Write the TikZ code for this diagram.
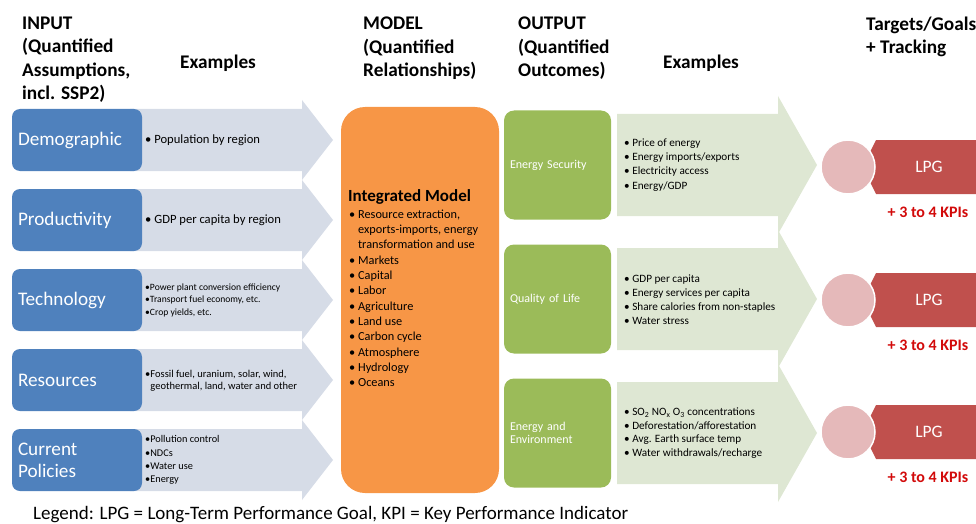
\documentclass[tikz,border=0pt]{standalone}
\usepackage{fontspec}
\setmainfont{Carlito}
\usetikzlibrary{positioning}

\definecolor{inblue}{RGB}{79,129,189}
\definecolor{inpale}{RGB}{214,220,231}
\definecolor{modelorange}{RGB}{247,150,70}
\definecolor{outgreen}{RGB}{155,187,89}
\definecolor{outpale}{RGB}{222,231,211}
\definecolor{goalpink}{RGB}{229,185,186}
\definecolor{lpgred}{RGB}{192,80,77}
\definecolor{kpired}{RGB}{210,10,10}

\newcommand{\bul}{\textbullet\ }
\newcommand{\ind}{\phantom{\textbullet\ }}

\begin{document}
\begin{tikzpicture}[x=1pt,y=-1pt,
  head/.style={font=\fontsize{19.3}{23.2}\selectfont\bfseries, align=left, inner sep=0pt},
  inbox/.style={fill=inblue, rounded corners=8pt, minimum width=130pt, minimum height=62pt,
    text width=118pt, inner xsep=6pt, align=left, text=white, font=\fontsize{19.2}{22}\selectfont},
  inex/.style={anchor=west, align=left, inner sep=0pt},
  model/.style={fill=modelorange, rounded corners=24pt, minimum width=158pt, minimum height=386pt},
  outbox/.style={fill=outgreen, rounded corners=10pt, minimum width=107pt, minimum height=109pt,
    text width=95pt, inner xsep=6pt, align=left, text=white, font=\fontsize{12}{12.5}\selectfont},
  outex/.style={anchor=west, align=left, inner sep=0pt, font=\fontsize{11.2}{14.2}\selectfont},
  goal/.style={circle, fill=goalpink, draw=white, line width=1.5pt, minimum size=54pt, inner sep=0pt},
  lpg/.style={text=white, font=\fontsize{17.5}{20}\selectfont},
  kpi/.style={text=kpired, font=\fontsize{16}{18}\selectfont\bfseries}]
  \useasboundingbox (0,0) rectangle (976,524);

  % headings
  \node[head, anchor=north west] (hdinput) at (22,17) {INPUT\\(Quantified\\Assumptions,\\incl. SSP2)};
  \node[head, anchor=west] (hdexin) at (180,63) {Examples};
  \node[head, anchor=north west] (hdmodel) at (363,17) {MODEL\\(Quantified\\Relationships)};
  \node[head, anchor=north west] (hdoutput) at (518,17) {OUTPUT\\(Quantified\\Outcomes)};
  \node[head, anchor=west] (hdexout) at (663,63) {Examples};
  \node[head, anchor=north west] (hdtarget) at (866,17) {Targets/Goals\\+ Tracking};

  % inputs
  \foreach \c/\i/\lbl in {140/1/Demographic, 220/2/Productivity, 300/3/Technology,
      380/4/Resources, 460/5/{Current\\Policies}} {
    \fill[inpale] (130,\c-31) -- (302,\c-31) -- (302,\c-40) -- (333,\c) -- (302,\c+40)
      -- (302,\c+31) -- (130,\c+31) -- cycle;
    \node[inbox] (in\i) at (77,\c) {\lbl};
  }
  \node[inex, font=\fontsize{12.6}{14}\selectfont] (inex1) at (145,140) {\bul Population by region};
  \node[inex, font=\fontsize{12.6}{14}\selectfont] (inex2) at (145,220) {\bul GDP per capita by region};
  \node[inex, font=\fontsize{9.6}{12.5}\selectfont] (inex3) at (145,300)
    {\textbullet Power plant conversion efficiency\\\textbullet Transport fuel economy, etc.\\\textbullet Crop yields, etc.};
  \node[inex, font=\fontsize{10.5}{12}\selectfont] (inex4) at (145,380.5)
    {\textbullet Fossil fuel, uranium, solar, wind,\\\phantom{\textbullet}geothermal, land, water and other};
  \node[inex, font=\fontsize{10.3}{13.3}\selectfont] (inex5) at (145,460)
    {\textbullet Pollution control\\\textbullet NDCs\\\textbullet Water use\\\textbullet Energy};

  % model
  \node[model] (model) at (420,300) {};
  \node[anchor=west, inner sep=0pt, font=\fontsize{17}{20}\selectfont\bfseries] (mtitle) at (348,197) {Integrated Model};
  \node[align=left, inner sep=0pt, font=\fontsize{12.3}{15.3}\selectfont,
    below=5pt of mtitle.south west, anchor=north west, xshift=1pt] (mlist)
    {\bul Resource extraction,\\\ind exports-imports, energy\\\ind transformation and use\\
     \bul Markets\\\bul Capital\\\bul Labor\\\bul Agriculture\\\bul Land use\\
     \bul Carbon cycle\\\bul Atmosphere\\\bul Hydrology\\\bul Oceans};

  % outputs
  \foreach \c/\i/\lbl in {165/1/Energy Security, 299/2/Quality of Life, 433/3/{Energy and\\Environment}} {
    \fill[outpale] (617,\c-51) -- (778,\c-51) -- (778,\c-69) -- (817,\c) -- (778,\c+69)
      -- (778,\c+51) -- (617,\c+51) -- cycle;
    \node[outbox] (out\i) at (557.5,\c) {\lbl};
  }
  \node[outex] (outex1) at (624,165)
    {\bul Price of energy\\\bul Energy imports/exports\\\bul Electricity access\\\bul Energy/GDP};
  \node[outex] (outex2) at (624,299.5)
    {\bul GDP per capita\\\bul Energy services per capita\\\bul Share calories from non-staples\\\bul Water stress};
  \node[outex, font=\fontsize{11.2}{13.5}\selectfont] (outex3) at (624,433)
    {\bul SO\textsubscript{2} NO\textsubscript{x} O\textsubscript{3} concentrations\\\bul Deforestation/afforestation\\
     \bul Avg. Earth surface temp\\\bul Water withdrawals/recharge};

  % goals
  \foreach \c/\i in {167/1, 300/2, 432/3} {
    \fill[lpgred] (876,\c-27) -- (976,\c-27) -- (976,\c+27) -- (876,\c+27) -- (869,\c+13)
      -- (869,\c-13) -- cycle;
    \node[lpg] (lpg\i) at (929,\c) {LPG};
    \node[goal] (goal\i) at (848,\c) {};
    \node[kpi] (kpi\i) at (928,\c+45) {+ 3 to 4 KPIs};
  }

  % legend
  \node[anchor=west, inner sep=0pt, font=\fontsize{19}{22}\selectfont] (legend) at (33,515)
    {Legend: LPG = Long-Term Performance Goal, KPI = Key Performance Indicator};
\end{tikzpicture}
\end{document}
